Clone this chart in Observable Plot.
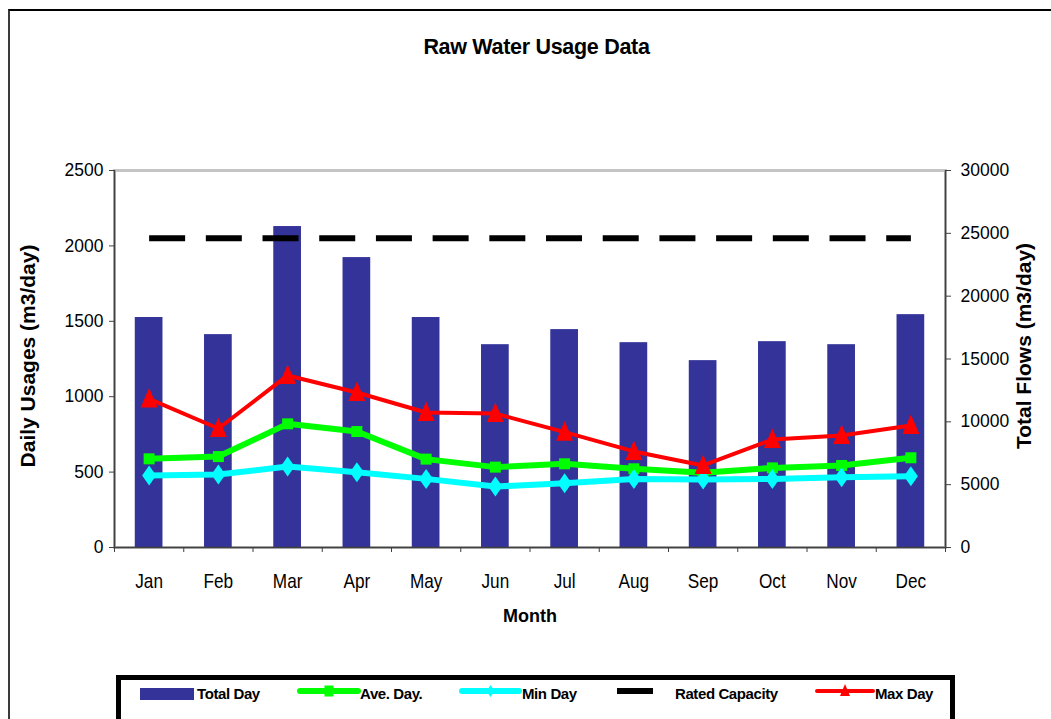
<!DOCTYPE html>
<html><head><meta charset="utf-8">
<script src="https://cdn.jsdelivr.net/npm/d3@7"></script>
<script src="https://cdn.jsdelivr.net/npm/@observablehq/plot@0.6"></script>
<style>
body{margin:0;background:#fff;}
#wrap{position:relative;width:1051px;height:719px;overflow:hidden;font-family:Arial,"Liberation Sans",sans-serif;color:#000;background:#fff;}
#frame{position:absolute;left:8px;top:9px;width:1100px;height:800px;border-left:2px solid #3a3a3a;border-top:2px solid #000;}
#title{position:absolute;left:0;top:35px;width:1073px;text-align:center;font-weight:bold;font-size:21.5px;letter-spacing:-0.3px;}
#chart{position:absolute;left:0;top:0;}
.rot{position:absolute;font-weight:bold;font-size:21px;white-space:nowrap;transform:translate(-50%,-50%) rotate(-90deg);}
#xlab{position:absolute;left:530px;top:616px;transform:translate(-50%,-50%);font-weight:bold;font-size:18px;}
#legend{position:absolute;left:116px;top:675px;width:839px;height:60px;border:5px solid #000;box-sizing:border-box;background:#fff;}
</style></head><body>
<div id="wrap">
  <div id="frame"></div>
  <div id="title">Raw Water Usage Data</div>
  <div id="chart"></div>
  <div class="rot" style="left:28px;top:356px;">Daily Usages (m3/day)</div>
  <div class="rot" style="left:1024px;top:346px;">Total Flows (m3/day)</div>
  <div id="xlab">Month</div>
  <div id="legend"></div>
</div>
<script>
const months = ["Jan","Feb","Mar","Apr","May","Jun","Jul","Aug","Sep","Oct","Nov","Dec"];
const totalDay = [18300,16940,25540,23070,18300,16140,17340,16300,14870,16380,16140,18530];
const aveDay = [588,603,820,769,586,533,555,522,495,528,544,595];
const minDay = [477,484,537,499,455,404,426,455,451,455,466,473];
const maxDay = [985,789,1141,1028,895,888,765,637,544,716,743,809];
const ratedCapacity = [2050,2050,2050,2050,2050,2050,2050,2050,2050,2050,2050,2050];
const leftTicks = [0,500,1000,1500,2000,2500];
const rightTicks = [0,5000,10000,15000,20000,25000,30000];

const ratio = 30000 / 2500;
const data = months.map((m, i) => ({i, month: m, total: totalDay[i], ave: aveDay[i], min: minDay[i], max: maxDay[i], rated: ratedCapacity[i]}));

const triSym = {draw(ctx, size){const r=Math.sqrt(size/Math.PI); ctx.moveTo(0,-1.3*r); ctx.lineTo(r,r); ctx.lineTo(-r,r); ctx.closePath();}};
const diaSym = {draw(ctx, size){const r=Math.sqrt(size/Math.PI); ctx.moveTo(0,-1.43*r); ctx.lineTo(r,0); ctx.lineTo(0,1.43*r); ctx.lineTo(-r,0); ctx.closePath();}};
const sqSym = {draw(ctx, size){const r=Math.sqrt(size/Math.PI); ctx.rect(-r,-r,2*r,2*r);}};

const cx = d => d.i + 0.5;

const chart = Plot.plot({
  width: 1051, height: 672,
  marginTop: 170, marginBottom: 125, marginLeft: 114, marginRight: 106,
  style: {fontFamily: "Arial, 'Liberation Sans', sans-serif", background: "transparent", overflow: "visible"},
  x: {domain: [0, 12]},
  y: {domain: [0, 2500]},
  marks: [
    Plot.frame({stroke: "#c4c4c4", strokeWidth: 3}),
    Plot.rectY(data, {x1: d => d.i + 0.3, x2: d => d.i + 0.7, y: d => d.total / ratio, fill: "#333399"}),
    Plot.lineY(data, {x: cx, y: "rated", stroke: "#000", strokeWidth: 6, strokeDasharray: "36,20.7", strokeLinecap: "butt"}),
    Plot.lineY(data, {x: cx, y: "ave", stroke: "#00ff00", strokeWidth: 6}),
    Plot.dot(data, {x: cx, y: "ave", symbol: sqSym, r: 5.5, fill: "#00ff00", stroke: "none"}),
    Plot.lineY(data, {x: cx, y: "min", stroke: "#00ffff", strokeWidth: 6}),
    Plot.dot(data, {x: cx, y: "min", symbol: diaSym, r: 7, fill: "#00ffff", stroke: "none"}),
    Plot.lineY(data, {x: cx, y: "max", stroke: "#ff0000", strokeWidth: 4}),
    Plot.dot(data, {x: cx, y: "max", symbol: triSym, r: 8.5, fill: "#ff0000", stroke: "none"}),
    Plot.ruleX([0], {stroke: "#404040", strokeWidth: 1.5}),
    Plot.ruleX([12], {stroke: "#404040", strokeWidth: 1.5}),
    Plot.ruleY([0], {stroke: "#404040", strokeWidth: 1.5}),
    Plot.axisY({anchor: "left", ticks: leftTicks, tickFormat: v => String(v), tickSize: 5, tickPadding: 6, fontSize: 17.5, label: null, stroke: "#404040"}),
    Plot.axisY({anchor: "right", ticks: rightTicks.map(v => v / ratio), tickFormat: v => String(Math.round(v * ratio)), tickSize: 5, tickPadding: 10, fontSize: 17.5, label: null, stroke: "#404040"}),
    Plot.axisX({ticks: d3.range(0, 13), tickFormat: () => "", tickSize: 5, label: null, stroke: "#404040"}),
    Plot.axisX({ticks: months.map((m, i) => i + 0.5), tickFormat: v => months[Math.floor(v)], tickSize: 0, tickPadding: 26, fontSize: 20, label: null})
  ]
});
document.getElementById("chart").appendChild(chart);
// condense month labels horizontally like the original
d3.select(chart).selectAll("g[aria-label='x-axis tick label'] text").each(function() {
  const t = this.getAttribute("transform") || "";
  this.setAttribute("transform", t + " scale(0.86,1)");
});

// legend
const lg = d3.select("#legend").append("svg").attr("width", 829).attr("height", 50).style("display", "block");
const items = [
  {name: "Total Day", kind: "rect", color: "#333399", x0: 19, x1: 73, tx: 76},
  {name: "Ave. Day.", kind: "line", color: "#00ff00", sym: "sq", w: 6, x0: 179, x1: 237, tx: 239},
  {name: "Min Day", kind: "line", color: "#00ffff", sym: "dia", w: 6, x0: 341, x1: 398, tx: 401},
  {name: "Rated Capacity", kind: "dash", color: "#000", x0: 496, x1: 532, tx: 554},
  {name: "Max Day", kind: "line", color: "#ff0000", sym: "tri", w: 4, x0: 696, x1: 752, tx: 754}
];
const ly = 11;
items.forEach(it => {
  if (it.kind === "rect") lg.append("rect").attr("x", it.x0).attr("y", 8).attr("width", it.x1 - it.x0).attr("height", 12).attr("fill", it.color);
  else if (it.kind === "dash") lg.append("rect").attr("x", it.x0).attr("y", 8).attr("width", it.x1 - it.x0).attr("height", 6).attr("fill", it.color);
  else {
    lg.append("line").attr("x1", it.x0).attr("x2", it.x1).attr("y1", ly).attr("y2", ly).attr("stroke", it.color).attr("stroke-width", it.w).attr("stroke-linecap", "round");
    const mx = (it.x0 + it.x1) / 2;
    if (it.sym === "sq") lg.append("rect").attr("x", mx - 4.5).attr("y", ly - 5.5).attr("width", 9).attr("height", 11).attr("fill", it.color);
    if (it.sym === "dia") lg.append("path").attr("d", `M${mx},${ly-6}L${mx+4},${ly}L${mx},${ly+6}L${mx-4},${ly}Z`).attr("fill", it.color);
    if (it.sym === "tri") lg.append("path").attr("d", `M${mx},${ly-7}L${mx+5},${ly+5}L${mx-5},${ly+5}Z`).attr("fill", it.color);
  }
  lg.append("text").attr("x", it.tx).attr("y", 19).attr("font-family", "Arial,'Liberation Sans',sans-serif").attr("font-weight", "bold").attr("font-size", 15).attr("letter-spacing", "-0.4").text(it.name);
});
</script>
</body></html>
